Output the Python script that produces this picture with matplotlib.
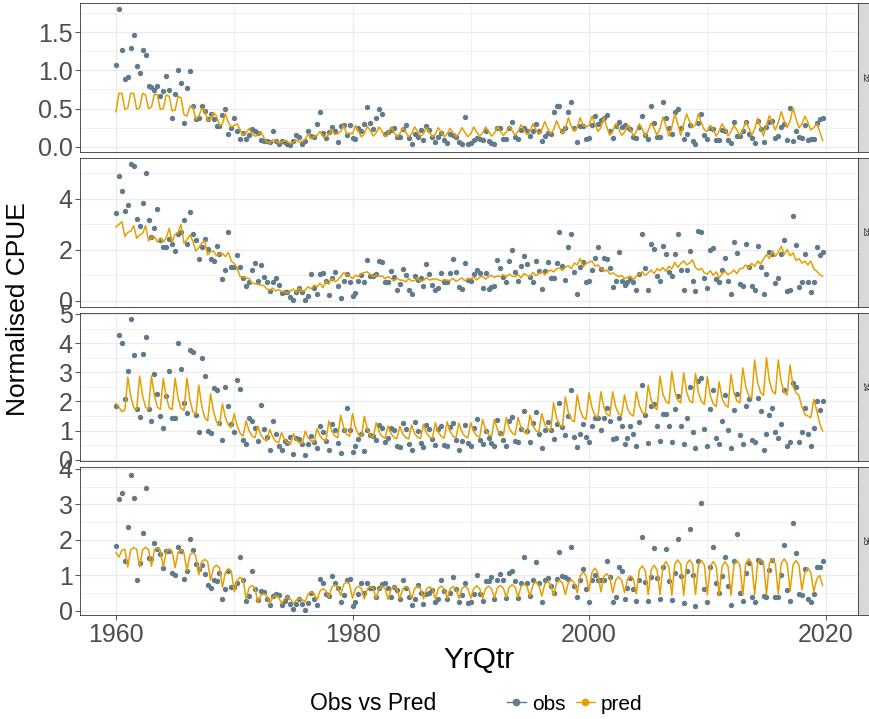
import numpy as np
import matplotlib
matplotlib.use("Agg")
import matplotlib.pyplot as plt
from matplotlib.lines import Line2D
from matplotlib.ticker import MultipleLocator, FormatStrFormatter

plt.rcParams['font.family'] = ['Liberation Sans', 'DejaVu Sans']

# ---------------------------------------------------------------- data
areas = ["22", "23", "24", "25"]
first_year = 1960
n_qtr = 240
yrqtr = first_year + np.arange(n_qtr) / 4.0

obs_22 = [
    1.07, 1.80, 1.27, 0.89, 0.92, 1.30, 1.47, 1.06, 0.96, 1.27, 1.20, 0.80,
    0.78, 0.74, 0.79, 0.67, 0.73, 0.93, 0.74, 0.38, 0.69, 1.00, 0.83, 0.31,
    0.77, 0.99, 0.53, 0.36, 0.38, 0.53, 0.47, 0.36, 0.43, 0.36, 0.27, 0.27,
    0.41, 0.49, 0.17, 0.25, 0.37, 0.20, 0.10, 0.18, 0.10, 0.16, 0.23, 0.21,
    0.18, 0.09, 0.07, 0.07, 0.06, 0.20, 0.07, 0.04, 0.08, 0.06, 0.03, 0.02,
    0.07, 0.16, 0.13, 0.03, 0.07, 0.21, 0.14, 0.13, 0.30, 0.45, 0.18, 0.12,
    0.19, 0.26, 0.20, 0.06, 0.27, 0.28, 0.16, 0.28,
    0.11, 0.10, 0.25, 0.20, 0.30, 0.52, 0.31, 0.23, 0.38, 0.50,
    0.43, 0.17, 0.19, 0.22, 0.25, 0.13, 0.13, 0.23, 0.28, 0.11,
    0.04, 0.17, 0.13, 0.22, 0.09, 0.27, 0.22, 0.13, 0.06, 0.13,
    0.18, 0.09, 0.05, 0.17, 0.15, 0.13, 0.06, 0.04, 0.39, 0.04,
    0.05, 0.09, 0.12, 0.10, 0.09, 0.21, 0.07, 0.05, 0.04, 0.25,
    0.24, 0.10, 0.10, 0.25, 0.33, 0.13, 0.10, 0.22, 0.24, 0.20,
    0.14, 0.21, 0.30, 0.20, 0.07, 0.14, 0.18, 0.17, 0.45, 0.54,
    0.53, 0.21, 0.25, 0.46, 0.58, 0.25, 0.06, 0.27, 0.27, 0.10,
    0.12, 0.28, 0.40, 0.30, 0.35, 0.38, 0.42,
    0.20, 0.12, 0.27, 0.32, 0.26, 0.28, 0.26, 0.23, 0.13, 0.12,
    0.26, 0.40, 0.16, 0.10, 0.53, 0.31, 0.13, 0.13, 0.59, 0.37,
    0.25, 0.17, 0.46, 0.50, 0.25, 0.10, 0.17, 0.28, 0.07, 0.03,
    0.31, 0.43, 0.16, 0.10, 0.24, 0.23, 0.09, 0.09, 0.22, 0.21,
    0.09, 0.05, 0.33, 0.14, 0.14, 0.21, 0.33, 0.17, 0.12, 0.05,
    0.34, 0.23, 0.06, 0.26, 0.33, 0.34, 0.11, 0.14, 0.26, 0.30,
    0.09, 0.51, 0.07, 0.20, 0.13, 0.11, 0.28, 0.09, 0.10, 0.10,
    0.31, 0.36, 0.37,
]

pred_22 = [
    0.46, 0.70, 0.70, 0.49, 0.51, 0.70, 0.70, 0.49,
    0.51, 0.70, 0.68, 0.50, 0.52, 0.69, 0.68, 0.49,
    0.50, 0.68, 0.66, 0.47, 0.48, 0.66, 0.64, 0.42,
    0.40, 0.53, 0.52, 0.36, 0.40, 0.50, 0.48, 0.34,
    0.36, 0.45, 0.40, 0.28, 0.30, 0.43, 0.32, 0.26,
    0.28, 0.30, 0.22, 0.15, 0.18, 0.24, 0.17, 0.14,
    0.15, 0.20, 0.12, 0.06, 0.05, 0.09, 0.08, 0.05,
    0.06, 0.08, 0.07, 0.04, 0.06, 0.09, 0.06, 0.07,
    0.10, 0.17, 0.11, 0.13, 0.15, 0.20, 0.13, 0.13,
    0.16, 0.23, 0.16, 0.17, 0.20, 0.28, 0.17, 0.18,
    0.17, 0.28, 0.20, 0.13, 0.17, 0.27, 0.21, 0.14,
    0.18, 0.26, 0.20, 0.13, 0.17, 0.26, 0.19, 0.13,
    0.17, 0.25, 0.19, 0.13, 0.17, 0.26, 0.20, 0.14,
    0.17, 0.25, 0.19, 0.13, 0.16, 0.25, 0.19, 0.13,
    0.17, 0.24, 0.18, 0.13, 0.17, 0.25, 0.19, 0.13,
    0.17, 0.26, 0.19, 0.14, 0.18, 0.26, 0.20, 0.14,
    0.18, 0.26, 0.20, 0.15, 0.19, 0.27, 0.21, 0.15,
    0.20, 0.29, 0.22, 0.16, 0.21, 0.30, 0.22, 0.16,
    0.22, 0.33, 0.24, 0.17, 0.22, 0.34, 0.25, 0.17,
    0.24, 0.38, 0.27, 0.20, 0.26, 0.38, 0.28, 0.26,
    0.28, 0.40, 0.30, 0.20, 0.25, 0.38, 0.26, 0.15,
    0.20, 0.30, 0.24, 0.15, 0.19, 0.28, 0.22, 0.14,
    0.20, 0.30, 0.23, 0.14, 0.21, 0.31, 0.24, 0.15,
    0.24, 0.39, 0.27, 0.14, 0.26, 0.43, 0.30, 0.15,
    0.30, 0.43, 0.33, 0.25, 0.29, 0.43, 0.31, 0.22,
    0.20, 0.28, 0.22, 0.14, 0.21, 0.30, 0.23, 0.14,
    0.20, 0.28, 0.22, 0.15, 0.22, 0.33, 0.25, 0.15,
    0.23, 0.37, 0.26, 0.14, 0.28, 0.41, 0.31, 0.22,
    0.32, 0.46, 0.34, 0.25, 0.34, 0.51, 0.36, 0.25,
    0.30, 0.40, 0.32, 0.22, 0.25, 0.30, 0.20, 0.08,
]

obs_23 = [
    3.42, 4.89, 4.29, 3.52, 3.75, 5.34, 5.28, 3.22, 2.92, 3.84,
    4.99, 3.17, 2.50, 2.84, 3.58, 2.39, 2.09, 2.09, 2.42, 2.23,
    1.95, 2.62, 2.68, 3.15, 2.24, 3.48, 2.61, 2.39, 1.64, 2.11,
    2.41, 2.03, 1.63, 1.56, 2.16, 1.82, 0.86, 1.23, 2.71, 1.33,
    1.31, 1.80, 1.34, 0.88, 0.57, 0.73, 1.20, 1.47, 0.79, 1.41,
    0.95, 0.73, 0.39, 0.73, 0.91, 0.62, 0.31, 0.37, 0.37, 0.17,
    0.02, 0.34, 0.50, 0.34, 0.03, 0.19, 1.04, 0.50, 0.29, 1.06,
    1.11, 0.80, 0.24, 0.88, 1.15, 0.60, 0.11, 0.80, 1.06, 0.75,
    0.19, 0.31, 0.80, 1.01, 0.73, 1.59, 0.99, 0.99, 1.04, 1.56,
    1.54, 0.75, 0.73, 1.18, 0.95, 0.42, 0.65, 1.24, 1.01, 0.44,
    0.26, 0.99, 0.82, 0.91, 0.60, 1.46, 1.04, 0.62, 0.44, 0.52,
    1.11, 0.75, 0.73, 1.11, 1.64, 1.15, 0.56, 0.46, 1.49, 0.83,
    0.80, 1.06, 1.20, 1.11, 0.50, 1.11, 0.47, 0.55, 0.57, 1.61,
    1.28, 0.93, 0.73, 1.56, 2.00, 1.15, 0.80, 1.36, 1.76, 1.46,
    0.93, 0.73, 1.56, 1.18, 0.47, 1.18, 1.51, 0.91, 0.91, 1.49,
    2.71, 1.36, 0.83, 2.11, 2.63, 1.15, 0.26, 1.31, 1.51, 0.75,
    0.78, 1.23, 1.69, 2.11, 1.25, 1.67, 1.64,
    1.28, 0.55, 0.78, 1.92, 0.78, 0.62, 0.75, 0.86, 0.75, 0.43,
    1.04, 2.61, 1.28, 0.43, 2.21, 2.03, 0.99, 0.80, 2.13, 1.82,
    1.15, 0.96, 1.85, 2.63, 1.23, 0.44, 1.20, 1.95, 0.78, 0.39,
    2.73, 2.71, 0.88, 0.50, 1.98, 2.08, 0.86, 0.73, 1.20, 1.67,
    0.78, 0.29, 2.32, 1.87, 0.65, 0.57, 2.24, 1.31, 0.57, 0.42,
    2.16, 1.31, 0.29, 1.06, 1.92, 1.85, 0.70, 0.88, 1.82, 2.37,
    0.39, 0.44, 3.31, 2.18, 0.55, 0.75, 1.85, 0.75, 0.37, 0.75,
    2.11, 1.80, 1.92,
]

pred_23 = [
    2.90, 2.99, 3.10, 2.52, 2.68, 2.73, 2.94, 2.45,
    2.58, 2.64, 2.94, 2.35, 2.48, 2.52, 2.30, 2.47,
    2.30, 2.47, 2.84, 2.30, 2.61, 2.68, 2.99, 2.26,
    2.39, 2.58, 2.35, 1.95, 2.08, 2.26, 2.35, 1.80,
    1.92, 1.95, 1.77, 1.82, 1.86, 1.73, 1.90, 1.56,
    1.47, 1.28, 0.95, 0.94, 0.91, 0.88, 0.69, 0.68,
    0.65, 0.62, 0.60, 0.47, 0.43, 0.50, 0.39, 0.44,
    0.37, 0.37, 0.30, 0.39, 0.47, 0.34, 0.50, 0.37,
    0.43, 0.56, 0.47, 0.62, 0.56, 0.69, 0.52, 0.78,
    0.65, 0.88, 0.75, 0.82, 0.95, 1.11, 1.04, 0.97,
    0.88, 1.01, 0.95, 1.07, 1.11, 1.14, 1.04, 0.95,
    1.01, 0.97, 0.98, 0.87, 0.95, 0.88, 0.78, 0.89,
    0.82, 0.81, 0.75, 0.88, 0.78, 0.80, 0.90, 0.75,
    0.80, 0.91, 0.82, 0.85, 0.87, 0.83, 0.78, 0.84,
    0.81, 0.80, 0.88, 0.77, 0.83, 0.90, 0.79, 0.86,
    0.87, 0.93, 0.82, 0.93, 0.97, 0.85, 0.95, 1.00,
    0.92, 0.98, 0.95, 1.03, 0.95, 1.05, 0.97, 0.95,
    1.03, 0.90, 1.07, 1.00, 0.95, 1.11, 0.99, 1.07,
    1.16, 1.02, 1.14, 1.21, 1.14, 1.26, 1.28, 1.19,
    1.32, 1.38, 1.26, 1.48, 1.41, 1.66, 1.34, 1.46,
    1.51, 1.56, 1.36, 1.41, 1.28, 1.16, 1.21, 1.05,
    1.10, 1.03, 0.95, 1.00, 0.87, 0.93, 0.97, 0.83,
    0.97, 1.05, 1.14, 1.00, 1.10, 1.21, 1.07, 1.26,
    1.18, 1.31, 1.16, 1.36, 1.26, 1.51, 1.31, 1.46,
    1.56, 1.41, 1.48, 1.61, 1.31, 1.21, 1.28, 1.10,
    1.05, 1.18, 1.00, 1.14, 0.90, 1.07, 1.16, 1.03,
    1.10, 1.21, 1.07, 1.26, 1.28, 1.41, 1.26, 1.48,
    1.34, 1.56, 1.44, 1.64, 1.81, 1.66, 1.96, 1.74,
    1.91, 2.14, 1.81, 2.01, 1.76, 1.88, 1.58, 1.66,
    1.48, 1.56, 1.41, 1.56, 1.26, 1.16, 1.03, 0.97,
]

obs_24 = [
    1.83, 4.27, 3.99, 2.07, 3.04, 4.82, 3.59, 1.74, 1.46, 3.62,
    4.21, 1.73, 1.33, 2.93, 2.25, 1.51, 1.10, 2.19, 3.04, 1.44,
    1.44, 3.99, 3.10, 1.93, 1.60, 3.78, 3.71, 1.55, 0.96, 3.50,
    2.87, 0.98, 0.93, 2.47, 2.40, 1.26, 0.66, 2.50, 1.84, 1.23,
    0.96, 2.72, 2.43, 0.66, 0.53, 1.44, 1.33, 1.10, 0.64, 1.87,
    1.04, 0.79, 0.34, 1.33, 0.87, 0.47, 0.34, 0.64, 0.58, 0.78,
    0.21, 0.75, 0.71, 0.55, 0.16, 0.53, 0.80, 0.59, 0.39, 1.14,
    0.94, 0.64, 0.32, 1.21, 1.01, 0.57, 0.22, 1.03, 1.76, 1.01,
    0.27, 0.47, 0.70, 0.87, 0.30, 1.03, 0.85, 0.82, 0.66, 1.19,
    1.10, 0.59, 0.75, 1.10, 1.01, 0.48, 0.43, 1.27, 1.05, 0.53,
    0.34, 1.30, 0.98, 0.58, 0.43, 1.19, 1.07, 0.71, 0.50, 1.07,
    1.17, 0.50, 0.48, 1.12, 1.27, 0.66, 0.32, 0.64, 1.19, 0.57,
    0.46, 1.10, 1.38, 0.66, 0.53, 0.98, 0.75, 0.57, 0.48, 1.37,
    0.91, 0.66, 0.48, 1.33, 1.46, 0.64, 0.62, 1.07, 1.67, 0.98,
    0.59, 1.26, 1.65, 0.89, 0.41, 1.01, 1.30, 1.01, 0.71, 1.23,
    1.94, 1.12, 0.85, 1.51, 2.38, 0.78, 0.43, 0.89, 1.21, 0.78,
    0.62, 1.17, 1.42, 1.42, 1.01, 1.42, 1.76,
    1.33, 0.71, 0.73, 1.42, 1.17, 0.55, 0.73, 1.17, 0.87, 0.46,
    1.30, 2.56, 1.53, 0.57, 1.83, 1.92, 1.14, 0.64, 1.58, 1.58,
    1.17, 0.59, 1.74, 2.17, 1.17, 0.55, 1.42, 2.49, 0.96, 0.41,
    2.70, 2.81, 1.07, 0.48, 1.74, 2.40, 0.75, 0.55, 1.33, 2.22,
    1.03, 0.41, 1.69, 2.26, 0.85, 0.55, 1.85, 2.08, 0.66, 0.59,
    2.13, 1.67, 0.34, 0.87, 1.53, 1.76, 0.94, 0.75, 1.23, 2.38,
    0.46, 0.62, 2.63, 2.49, 0.59, 0.94, 1.76, 0.89, 0.46, 1.10,
    2.01, 1.71, 2.01,
]

pred_24 = [
    1.92, 1.80, 1.65, 1.70, 2.83, 2.18, 1.78, 1.73,
    2.87, 2.20, 1.80, 1.73, 2.87, 2.20, 1.80, 1.73,
    2.79, 2.15, 1.78, 1.72, 2.79, 2.12, 1.76, 1.70,
    2.79, 2.05, 1.65, 1.55, 2.56, 1.85, 1.45, 1.33,
    2.26, 1.65, 1.30, 1.19, 1.92, 1.45, 1.18, 1.10,
    1.58, 1.15, 0.90, 0.81, 1.33, 1.00, 0.82, 0.75,
    1.15, 0.85, 0.70, 0.64, 1.04, 0.78, 0.63, 0.58,
    0.93, 0.70, 0.58, 0.53, 0.89, 0.68, 0.58, 0.55,
    0.98, 0.75, 0.64, 0.60, 1.07, 0.82, 0.70, 0.65,
    1.33, 0.98, 0.82, 0.75, 1.53, 1.10, 0.88, 0.80,
    1.58, 1.10, 0.86, 0.78, 1.49, 1.05, 0.83, 0.76,
    1.27, 0.95, 0.80, 0.74, 1.15, 0.90, 0.77, 0.72,
    1.15, 0.88, 0.76, 0.71, 1.19, 0.90, 0.77, 0.72,
    1.21, 0.92, 0.78, 0.73, 1.27, 0.95, 0.80, 0.74,
    1.30, 0.97, 0.81, 0.75, 1.25, 0.95, 0.80, 0.75,
    1.27, 0.97, 0.82, 0.77, 1.38, 1.02, 0.86, 0.80,
    1.38, 1.04, 0.88, 0.82, 1.44, 1.08, 0.92, 0.85,
    1.44, 1.10, 0.95, 0.88, 1.53, 1.17, 1.00, 0.93,
    1.58, 1.22, 1.05, 1.00, 1.95, 1.45, 1.20, 1.12,
    2.15, 1.62, 1.38, 1.30, 2.22, 1.70, 1.45, 1.38,
    2.30, 1.78, 1.52, 1.45, 2.33, 1.80, 1.56, 1.50,
    2.33, 1.82, 1.58, 1.52, 2.22, 1.76, 1.56, 1.50,
    2.33, 1.85, 1.62, 1.56, 2.56, 2.05, 1.80, 1.72,
    2.87, 2.25, 2.00, 1.92, 3.02, 2.35, 2.05, 1.95,
    2.98, 2.32, 2.03, 1.95, 2.96, 2.30, 2.00, 1.90,
    2.85, 2.20, 1.92, 1.82, 2.67, 2.10, 1.88, 1.80,
    2.93, 2.30, 2.02, 1.95, 3.15, 2.50, 2.20, 2.10,
    3.42, 2.65, 2.32, 2.20, 3.50, 2.70, 2.35, 2.25,
    3.42, 2.65, 2.32, 2.22, 3.25, 2.50, 2.30, 2.20,
    1.81, 1.55, 1.50, 1.44, 2.07, 1.70, 1.25, 0.98,
]

obs_25 = [
    1.83, 3.15, 3.33, 1.40, 2.37, 3.84, 3.19, 0.88, 1.35, 2.19,
    3.47, 1.49, 1.47, 1.92, 1.74, 1.61, 1.21, 1.68, 1.68, 1.08,
    1.00, 1.80, 1.68, 0.91, 1.14, 2.04, 1.71, 1.33, 1.17, 1.29,
    1.05, 0.72, 0.64, 0.86, 0.84, 1.08, 0.35, 0.62, 1.14, 0.67,
    0.68, 0.80, 1.52, 0.87, 0.27, 0.42, 1.14, 0.63, 0.30, 0.56,
    0.54, 0.35, 0.16, 0.42, 0.49, 0.46, 0.16, 0.27, 0.39, 0.21,
    0.05, 0.21, 0.35, 0.21, 0.02, 0.22, 0.52, 0.33, 0.18, 0.89,
    0.78, 0.49, 0.42, 0.99, 0.80, 0.64, 0.24, 0.46, 0.86, 0.91,
    0.14, 0.24, 0.48, 0.80, 0.52, 0.80, 0.64, 0.64, 0.38, 0.64,
    0.76, 0.78, 0.66, 0.38, 0.68, 0.60, 0.33, 0.88, 0.64, 0.38,
    0.16, 0.33, 0.72, 0.50, 0.20, 0.48, 0.52, 0.60, 0.24, 0.33,
    0.86, 0.56, 0.33, 0.52, 0.95, 0.63, 0.25, 0.44, 0.78, 0.22,
    0.25, 0.48, 1.00, 0.48, 0.27, 0.84, 0.84, 0.95, 0.33, 0.88,
    1.04, 0.88, 0.36, 1.08, 1.14, 0.84, 0.36, 0.80, 1.53, 0.80,
    0.42, 0.88, 1.39, 0.80, 0.24, 0.88, 0.93, 0.70, 0.50, 0.89,
    1.65, 0.99, 0.95, 0.89, 1.81, 0.70, 0.38, 0.88, 1.19, 0.62,
    0.25, 0.88, 1.00, 0.88, 0.88, 0.88, 1.40,
    0.95, 0.25, 0.40, 1.24, 1.14, 0.33, 0.64, 0.93, 0.62, 0.27,
    0.88, 2.08, 0.82, 0.27, 0.97, 1.78, 0.93, 0.35, 1.25, 1.74,
    0.84, 0.31, 1.06, 2.04, 0.99, 0.22, 1.14, 2.30, 1.02, 0.14,
    1.41, 3.05, 0.63, 0.24, 1.23, 1.81, 0.80, 0.50, 0.99, 1.53,
    0.70, 0.18, 1.41, 2.17, 0.52, 0.27, 1.08, 1.34, 0.38, 0.24,
    1.43, 1.39, 0.42, 0.38, 1.15, 1.45, 0.40, 0.38, 1.02, 1.85,
    0.58, 0.27, 2.49, 1.63, 0.48, 0.46, 1.17, 0.35, 0.25, 0.48,
    1.25, 1.25, 1.41,
]

pred_25 = [
    1.65, 1.52, 1.71, 1.74, 1.24, 1.73, 1.78, 1.74,
    1.24, 1.73, 1.79, 1.73, 1.26, 1.73, 1.78, 1.71,
    1.24, 1.68, 1.75, 1.68, 1.22, 1.65, 1.73, 1.63,
    1.14, 1.58, 1.65, 1.55, 1.02, 1.39, 1.45, 1.39,
    0.87, 1.22, 1.29, 1.22, 0.67, 1.09, 1.19, 1.12,
    0.54, 0.87, 0.95, 0.87, 0.35, 0.65, 0.72, 0.65,
    0.25, 0.44, 0.49, 0.44, 0.21, 0.38, 0.44, 0.39,
    0.21, 0.34, 0.39, 0.34, 0.21, 0.31, 0.35, 0.32,
    0.26, 0.48, 0.54, 0.48, 0.32, 0.56, 0.63, 0.57,
    0.39, 0.67, 0.74, 0.67, 0.44, 0.75, 0.82, 0.75,
    0.36, 0.63, 0.70, 0.63, 0.34, 0.62, 0.69, 0.63,
    0.35, 0.63, 0.70, 0.63, 0.33, 0.61, 0.68, 0.62,
    0.34, 0.62, 0.69, 0.63, 0.35, 0.63, 0.70, 0.63,
    0.34, 0.62, 0.68, 0.62, 0.34, 0.63, 0.70, 0.63,
    0.35, 0.62, 0.69, 0.63, 0.35, 0.63, 0.70, 0.63,
    0.36, 0.63, 0.71, 0.63, 0.36, 0.63, 0.70, 0.63,
    0.37, 0.65, 0.72, 0.65, 0.38, 0.67, 0.74, 0.67,
    0.39, 0.69, 0.76, 0.69, 0.41, 0.73, 0.82, 0.73,
    0.42, 0.75, 0.83, 0.75, 0.43, 0.79, 0.87, 0.79,
    0.46, 0.80, 0.88, 0.80, 0.51, 0.99, 1.10, 0.99,
    0.58, 1.09, 1.21, 1.06, 0.54, 0.97, 1.05, 0.95,
    0.51, 0.87, 0.96, 0.87, 0.52, 0.90, 0.99, 0.90,
    0.48, 1.16, 1.27, 1.14, 0.46, 1.16, 1.29, 1.16,
    0.46, 1.26, 1.39, 1.24, 0.44, 1.32, 1.44, 1.32,
    0.44, 1.32, 1.44, 1.32, 0.46, 1.30, 1.42, 1.30,
    0.46, 1.26, 1.39, 1.26, 0.45, 1.26, 1.39, 1.26,
    0.44, 1.30, 1.41, 1.30, 0.44, 1.34, 1.47, 1.34,
    0.46, 1.34, 1.47, 1.34, 0.46, 1.34, 1.47, 1.34,
    0.48, 1.34, 1.47, 1.34, 0.56, 1.30, 1.42, 1.29,
    0.59, 1.09, 1.21, 1.09, 0.54, 0.90, 1.00, 0.72,
]

obs_series = [obs_22, obs_23, obs_24, obs_25]
pred_series = [pred_22, pred_23, pred_24, pred_25]

# ---------------------------------------------------------------- style
OBS_COL = "#607B8B"
PRED_COL = "#E69F00"
GRID_COL = "#EBEBEB"
BORDER_COL = "#333333"
TICK_TXT = "#4D4D4D"

W, H = 870, 719
fig = plt.figure(figsize=(W / 100, H / 100), dpi=100)
fig.patch.set_facecolor("white")

left_px, right_px, strip_px = 80.5, 858.0, 12.0
panel_rows = [(3.0, 152.0), (157.5, 306.5), (312.5, 461.0), (466.5, 615.0)]
y_limits = [(-0.069, 1.883), (-0.215, 5.605), (-0.045, 5.05), (-0.113, 4.07)]
y_steps = [0.5, 2.0, 1.0, 1.0]
y_fmt = ["%.1f", "%d", "%d", "%d"]
x_limits = (1957.0, 2022.74)


def frac_box(x0, x1, top, bottom):
    return [x0 / W, 1 - bottom / H, (x1 - x0) / W, (bottom - top) / H]


for k, area in enumerate(areas):
    top, bottom = panel_rows[k]
    ax = fig.add_axes(frac_box(left_px, right_px, top, bottom))
    ax.set_facecolor("white")
    ax.set_axisbelow(True)

    ax.scatter(yrqtr, obs_series[k], s=15, color=OBS_COL, linewidths=0, zorder=3)
    ax.plot(yrqtr, pred_series[k], color=PRED_COL, lw=1.1, zorder=4)

    ax.set_xlim(*x_limits)
    ax.set_ylim(*y_limits[k])
    ax.xaxis.set_major_locator(MultipleLocator(20))
    ax.xaxis.set_minor_locator(MultipleLocator(10))
    ax.yaxis.set_major_locator(MultipleLocator(y_steps[k]))
    ax.yaxis.set_minor_locator(MultipleLocator(y_steps[k] / 2))
    ax.yaxis.set_major_formatter(FormatStrFormatter(y_fmt[k]))

    ax.grid(which="major", color=GRID_COL, lw=0.9)
    ax.grid(which="minor", color=GRID_COL, lw=0.5)
    for sp in ax.spines.values():
        sp.set_color(BORDER_COL)
        sp.set_linewidth(0.6)

    ax.tick_params(axis="y", which="major", length=3.5, width=0.6, color=BORDER_COL,
                   labelsize=18, labelcolor=TICK_TXT, pad=2)
    ax.tick_params(which="minor", length=0)
    if k < 3:
        ax.tick_params(axis="x", which="major", length=0, labelbottom=False)
    else:
        ax.tick_params(axis="x", which="major", length=3.5, width=0.6, color=BORDER_COL,
                       labelsize=18, labelcolor=TICK_TXT, pad=2)

    # facet strip on the right
    sax = fig.add_axes(frac_box(right_px, right_px + strip_px, top, bottom))
    sax.set_facecolor("#D9D9D9")
    sax.set_xticks([])
    sax.set_yticks([])
    for sp in sax.spines.values():
        sp.set_color(BORDER_COL)
        sp.set_linewidth(0.6)
    sax.text(0.5, 0.5, area, rotation=-90, ha="center", va="center",
             fontsize=6, color="#1A1A1A", transform=sax.transAxes)

# axis titles
fig.text(18 / W, 1 - 309 / H, "Normalised CPUE", rotation=90, ha="center",
         va="center", fontsize=19)
fig.text(479 / W, 1 - 660 / H, "YrQtr", ha="center", va="center", fontsize=21.5)

# legend
fig.text(310 / W, 1 - 704 / H, "Obs vs Pred", ha="left", va="center", fontsize=16.5)
handles = [
    Line2D([], [], color=OBS_COL, marker="o", ms=4.5, lw=1.0, mec=OBS_COL),
    Line2D([], [], color=PRED_COL, marker="o", ms=4.5, lw=1.0, mec=PRED_COL),
]
fig.legend(handles, ["obs", "pred"], loc="center left",
           bbox_to_anchor=(507 / W, 1 - 704 / H), ncol=2, frameon=False,
           fontsize=15, handlelength=0.9, handletextpad=0.3, columnspacing=0.5,
           borderaxespad=0, borderpad=0.0)

fig.savefig("out.png", dpi=100, facecolor="white")
